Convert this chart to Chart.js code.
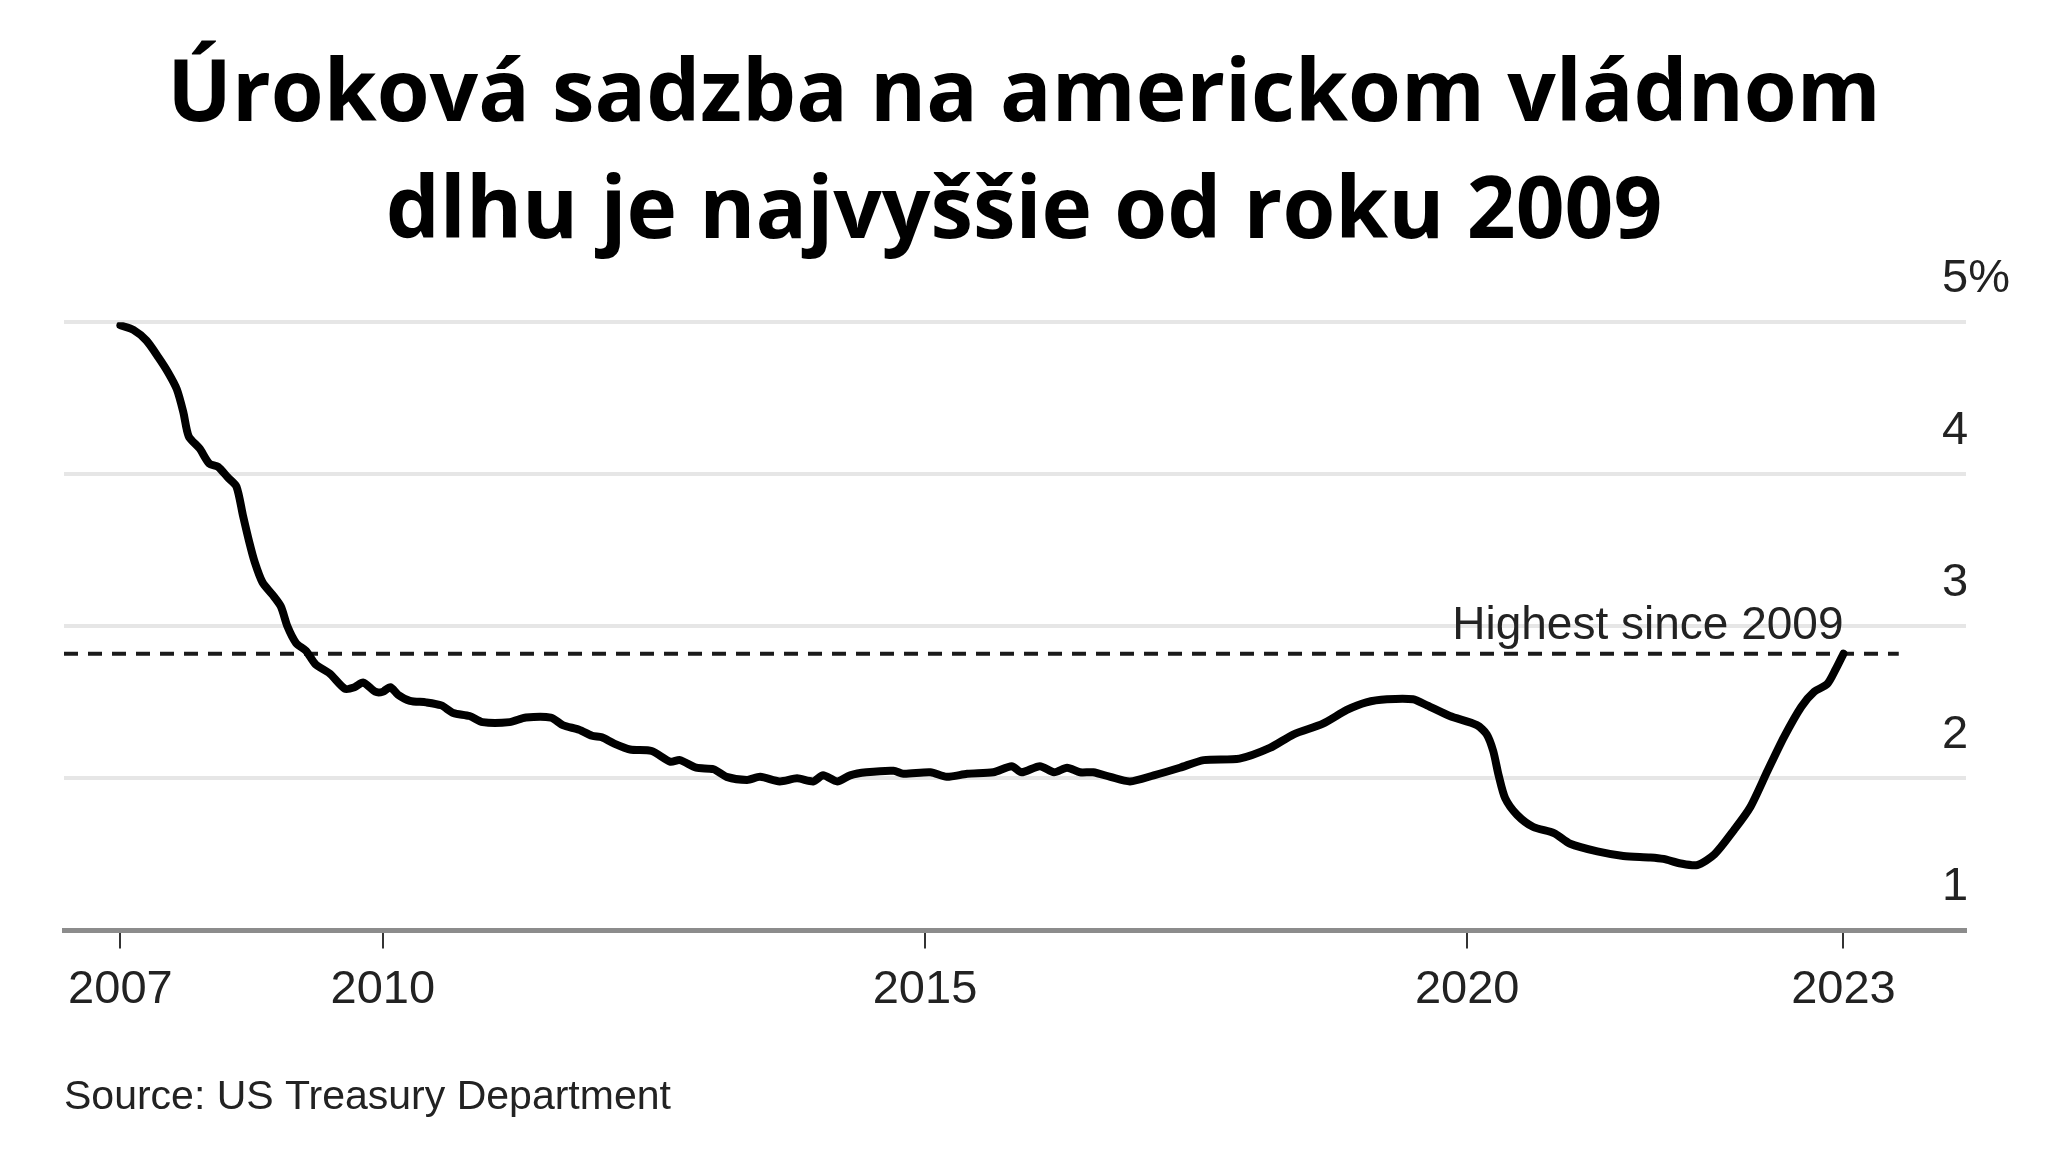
<!DOCTYPE html>
<html>
<head>
<meta charset="utf-8">
<title>Úroková sadzba na americkom vládnom dlhu</title>
<script src="https://cdn.jsdelivr.net/npm/chart.js@4.4.1/dist/chart.umd.min.js"></script>
<style>
    html, body { margin: 0; padding: 0; background: #fff; }
    #wrap { width: 2048px; height: 1152px; }
</style>
</head>
<body>
<div id="wrap"><canvas id="rate-chart"></canvas></div>
<script>
// average interest rate, %
const years = [
    2007.58, 2007.70, 2007.82, 2007.93, 2008.02, 2008.10, 2008.16, 2008.21, 2008.31, 2008.40,
    2008.48, 2008.57, 2008.65, 2008.71, 2008.77, 2008.82, 2008.89, 2008.98, 2009.06, 2009.12,
    2009.20, 2009.29, 2009.38, 2009.51, 2009.65, 2009.74, 2009.82, 2009.93, 2010.00, 2010.07,
    2010.14, 2010.25, 2010.40, 2010.54, 2010.65, 2010.80, 2010.92, 2011.17, 2011.32, 2011.55,
    2011.66, 2011.81, 2011.93, 2012.02, 2012.13, 2012.28, 2012.48, 2012.65, 2012.74, 2012.89,
    2013.05, 2013.17, 2013.36, 2013.48, 2013.66, 2013.82, 2013.97, 2014.06, 2014.19, 2014.31,
    2014.46, 2014.71, 2014.80, 2015.05, 2015.20, 2015.39, 2015.63, 2015.80, 2015.89, 2016.06,
    2016.19, 2016.31, 2016.43, 2016.55, 2016.71, 2016.89, 2017.11, 2017.35, 2017.57, 2017.90,
    2018.18, 2018.40, 2018.67, 2018.89, 2019.07, 2019.26, 2019.50, 2019.63, 2019.84, 2020.09,
    2020.18, 2020.24, 2020.29, 2020.35, 2020.46, 2020.61, 2020.80, 2020.95, 2021.20, 2021.44,
    2021.69, 2021.81, 2021.97, 2022.12, 2022.28, 2022.46, 2022.61, 2022.77, 2022.92, 2023.08,
    2023.20, 2023.32, 2023.40, 2023.47
];
const rates = [
    4.98, 4.95, 4.88, 4.77, 4.67, 4.56, 4.41, 4.25, 4.17, 4.07,
    4.05, 3.98, 3.92, 3.73, 3.55, 3.42, 3.29, 3.21, 3.13, 3.00,
    2.89, 2.84, 2.75, 2.69, 2.59, 2.60, 2.63, 2.57, 2.57, 2.60,
    2.55, 2.51, 2.50, 2.48, 2.43, 2.41, 2.37, 2.37, 2.40, 2.40,
    2.35, 2.32, 2.28, 2.27, 2.23, 2.19, 2.18, 2.11, 2.12, 2.07,
    2.06, 2.01, 1.99, 2.01, 1.98, 2.00, 1.98, 2.02, 1.98, 2.02,
    2.04, 2.05, 2.03, 2.04, 2.01, 2.03, 2.04, 2.08, 2.04, 2.08,
    2.04, 2.07, 2.04, 2.04, 2.01, 1.98, 2.02, 2.07, 2.12, 2.13,
    2.20, 2.29, 2.36, 2.45, 2.50, 2.52, 2.52, 2.48, 2.41, 2.35,
    2.29, 2.18, 2.02, 1.87, 1.76, 1.68, 1.64, 1.57, 1.52, 1.49,
    1.48, 1.47, 1.44, 1.43, 1.50, 1.66, 1.81, 2.05, 2.27, 2.47,
    2.57, 2.62, 2.72, 2.82
];

// dashed "highest since 2009" reference line
const highestYears = [2007.06, 2023.98];
const highestRates = [2.82, 2.82];
const highestLabel = 'Highest since 2009';
const highestLabelLevel = 3;

const xTickValues = [2007.58, 2010, 2015, 2020, 2023.47];
const xTickLabels = ['2007', '2010', '2015', '2020', '2023'];
const yTickLabels = ['1', '2', '3', '4', '5%'];

const titleLines = ['Úroková sadzba na americkom vládnom', 'dlhu je najvyššie od roku 2009'];
const sourceText = 'Source: US Treasury Department';

Chart.defaults.font.family = '"Liberation Sans", Arial, sans-serif';
Chart.defaults.color = '#222';

// label that sits over the end of the dashed line
const highestLabelPlugin = {
    id: 'highestLabel',
    afterDatasetsDraw(chart) {
        const ctx = chart.ctx;
        const x = chart.scales.x.getPixelForValue(years[years.length - 1]);
        const y = chart.scales.y.getPixelForValue(highestLabelLevel);
        ctx.save();
        ctx.font = '46px "Liberation Sans", Arial, sans-serif';
        ctx.fillStyle = '#222';
        ctx.textAlign = 'right';
        ctx.textBaseline = 'middle';
        ctx.fillText(highestLabel, x, y);
        ctx.restore();
    }
};

new Chart(document.getElementById('rate-chart').getContext('2d'), {
    type: 'line',
    data: {
        datasets: [
            {
                label: 'Interest rate',
                data: years.map((x, i) => ({ x: x, y: rates[i] })),
                borderColor: '#000',
                borderWidth: 8,
                pointRadius: 0,
                tension: 0.25,
                borderCapStyle: 'round',
                borderJoinStyle: 'round',
                fill: false
            },
            {
                label: highestLabel,
                data: highestYears.map((x, i) => ({ x: x, y: highestRates[i] })),
                borderColor: '#1a1a1a',
                borderWidth: 4,
                borderDash: [14, 10],
                pointRadius: 0,
                fill: false
            }
        ]
    },
    options: {
        responsive: true,
        maintainAspectRatio: false,
        animation: false,
        layout: {
            padding: { left: 64, right: 64, top: 0, bottom: 0 }
        },
        plugins: {
            legend: { display: false },
            tooltip: { enabled: false },
            title: {
                display: true,
                text: titleLines,
                color: '#000',
                font: { family: '"Open Sans", sans-serif', size: 85.5, weight: 'bold', lineHeight: 1.37 },
                padding: { top: 38, bottom: 50 }
            },
            subtitle: {
                display: true,
                position: 'bottom',
                align: 'start',
                text: sourceText,
                color: '#222',
                font: { size: 41 },
                padding: { top: 41, bottom: 30 }
            }
        },
        scales: {
            x: {
                type: 'linear',
                min: 2007.06,
                max: 2024.6,
                afterBuildTicks: axis => {
                    axis.ticks = xTickValues.map(v => ({ value: v }));
                },
                ticks: {
                    autoSkip: false,
                    maxRotation: 0,
                    padding: 13.5,
                    font: { size: 47 },
                    color: '#222',
                    callback: (value, index) => xTickLabels[index]
                },
                grid: {
                    display: true,
                    drawOnChartArea: false,
                    drawTicks: true,
                    tickLength: 18,
                    color: '#333',
                    lineWidth: 2
                },
                border: { display: true, color: '#8c8c8c', width: 5 }
            },
            y: {
                position: 'right',
                min: 1,
                max: 5,
                afterFit: axis => { axis.width = 18; },
                ticks: {
                    stepSize: 1,
                    mirror: true,
                    crossAlign: 'far',
                    padding: 44,
                    labelOffset: -43,
                    font: { size: 47 },
                    color: '#222',
                    callback: (value, index) => yTickLabels[index]
                },
                grid: {
                    color: '#e6e6e6',
                    lineWidth: 4,
                    drawTicks: false
                },
                border: { display: false }
            }
        }
    },
    plugins: [highestLabelPlugin]
});
</script>
</body>
</html>
